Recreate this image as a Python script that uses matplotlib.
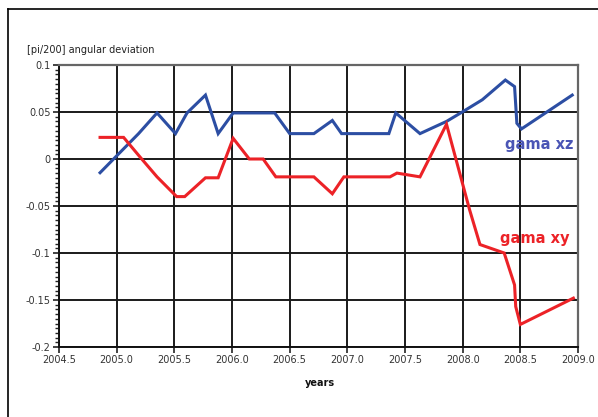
import matplotlib
matplotlib.use("Agg")
import matplotlib.pyplot as plt
from matplotlib.ticker import MultipleLocator
from matplotlib.lines import Line2D

# gama xz (blue)
xz_years = [2004.856, 2005.19, 2005.35, 2005.51, 2005.61, 2005.77, 2005.88, 2006.01,
            2006.37, 2006.50, 2006.71, 2006.87, 2006.95, 2007.36, 2007.42, 2007.63,
            2007.86, 2008.01, 2008.17, 2008.37, 2008.45, 2008.47, 2008.51, 2008.95]
xz_vals = [-0.0146, 0.027, 0.049, 0.027, 0.049, 0.068, 0.027, 0.049,
           0.049, 0.027, 0.027, 0.041, 0.027, 0.027, 0.049, 0.027,
           0.040, 0.051, 0.063, 0.084, 0.077, 0.038, 0.032, 0.068]

# gama xy (red)
xy_years = [2004.856, 2005.06, 2005.20, 2005.35, 2005.52, 2005.59, 2005.77, 2005.88,
            2006.01, 2006.15, 2006.27, 2006.38, 2006.71, 2006.87, 2006.97, 2007.37,
            2007.43, 2007.63, 2007.86, 2008.06, 2008.15, 2008.36, 2008.45, 2008.46,
            2008.50, 2008.96]
xy_vals = [0.023, 0.023, 0.0025, -0.019, -0.040, -0.040, -0.020, -0.020,
           0.022, 0.0, 0.0, -0.019, -0.019, -0.037, -0.019, -0.019,
           -0.015, -0.019, 0.037, -0.054, -0.091, -0.100, -0.134, -0.157,
           -0.176, -0.148]

x_ticks = [2004.5, 2005.0, 2005.5, 2006.0, 2006.5, 2007.0, 2007.5, 2008.0, 2008.5, 2009.0]
x_labels = ["2004.5", "2005.0", "2005.5", "2006.0", "2006.5", "2007.0", "2007.5", "2008.0", "2008.5", "2009.0"]
y_ticks = [-0.2, -0.15, -0.1, -0.05, 0, 0.05, 0.1]
y_labels = ["-0.2", "-0.15", "-0.1", "-0.05", "0", "0.05", "0.1"]

plt.rcParams['font.family'] = ['DejaVu Sans']

fig = plt.figure(figsize=(5.98, 4.17), dpi=100)
ax = fig.add_axes([59/598, 1 - 347/417, (578 - 59)/598, (347 - 65)/417])

blue = "#2c4ea3"
red = "#ec2227"
ax.plot(xz_years, xz_vals, color=blue, lw=2.2, zorder=3, solid_joinstyle='miter')
ax.plot(xy_years, xy_vals, color=red, lw=2.2, zorder=3, solid_joinstyle='miter')

ax.set_xlim(2004.5, 2009.0)
ax.set_ylim(-0.2, 0.1)
ax.set_xticks(x_ticks)
ax.set_xticklabels(x_labels)
ax.set_yticks(y_ticks)
ax.set_yticklabels(y_labels)
ax.yaxis.set_minor_locator(MultipleLocator(0.005))

ax.grid(True, which='major', color='#1a1a1a', lw=1.4)
ax.set_axisbelow(True)
ax.tick_params(axis='both', which='major', direction='out', length=4, width=1.2,
               labelsize=7, labelcolor='#333333', color='#222222', pad=2)
ax.tick_params(axis='y', which='minor', direction='out', length=3, width=1.0, color='#222222')
ax.tick_params(axis='x', which='minor', length=0)

for s in ['left', 'bottom']:
    ax.spines[s].set_color('#111111')
    ax.spines[s].set_linewidth(1.4)
for s in ['top', 'right']:
    ax.spines[s].set_color('#666666')
    ax.spines[s].set_linewidth(1.6)

ax.text(2008.965, 0.0155, "gama xz", color="#4a55b5", fontsize=10.5, ha='right', va='center',
        fontweight='semibold', zorder=4)
ax.text(2008.93, -0.0845, "gama xy", color=red, fontsize=10.5, ha='right', va='center',
        fontweight='semibold', zorder=4)

fig.text(27/598, 1 - 50/417, "[pi/200] angular deviation", fontsize=7, color='#222222',
         ha='left', va='center')
fig.text(305/598, 1 - 383/417, "years", fontsize=7, color='#111111', ha='left', va='center',
         fontweight='bold')

# outer frame
fig.add_artist(Line2D([8/598, 8/598], [0, 1 - 9/417], transform=fig.transFigure,
                      color='black', lw=1.2))
fig.add_artist(Line2D([8/598, 1], [1 - 9/417, 1 - 9/417], transform=fig.transFigure,
                      color='black', lw=1.2))

fig.savefig("out.png", dpi=100)
